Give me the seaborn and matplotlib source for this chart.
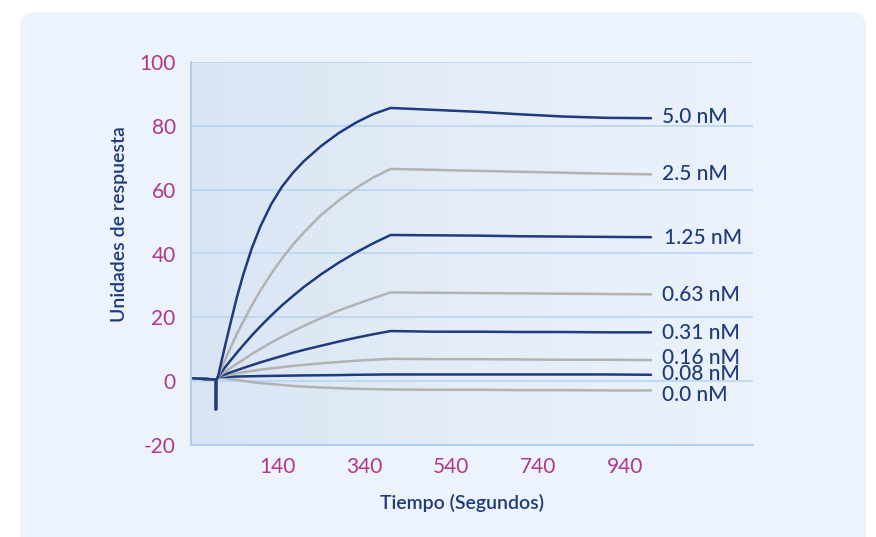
import matplotlib
matplotlib.use("Agg")
import matplotlib.pyplot as plt
from matplotlib.colors import LinearSegmentedColormap
from matplotlib.patches import FancyBboxPatch
import numpy as np
import pandas as pd
import seaborn as sns

# ---- data -------------------------------------------------------------
# shared pre-injection baseline with the injection spike
time_pre = [-55, -3, -2.6, -1.6]
resp_pre = [0.9, 0.5, -8.9, 0.3]

# association (0-400 s) and dissociation (400-1000 s) sampling times
time_assoc = [2, 10, 20, 30, 45, 60, 80, 100, 125, 150, 175, 200, 240, 280, 320, 360, 400]
time_dissoc = [500, 600, 700, 800, 900, 1000]

concentrations = ["0.0 nM", "0.08 nM", "0.16 nM", "0.31 nM",
                  "0.63 nM", "1.25 nM", "2.5 nM", "5.0 nM"]

resp_0_0 = [1.3, 1.1, 0.9, 0.7, 0.4, 0.1, -0.3, -0.6, -0.9, -1.2, -1.5, -1.7, -2.0, -2.2, -2.4, -2.5, -2.6,
            -2.7, -2.7, -2.8, -2.8, -2.9, -2.9]
resp_0_08 = [1.3, 1.3, 1.35, 1.4, 1.45, 1.5, 1.55, 1.6, 1.65, 1.7, 1.75, 1.8, 1.85, 1.9, 2.0, 2.05, 2.1,
             2.1, 2.1, 2.1, 2.1, 2.1, 2.0]
resp_0_16 = [1.3, 1.5, 1.8, 2.0, 2.4, 2.8, 3.2, 3.6, 4.0, 4.4, 4.8, 5.1, 5.6, 6.0, 6.4, 6.7, 7.0,
             6.9, 6.9, 6.8, 6.7, 6.7, 6.6]
resp_0_31 = [1.3, 1.7, 2.2, 2.7, 3.4, 4.1, 5.0, 5.9, 6.9, 7.9, 8.9, 9.8, 11.1, 12.4, 13.6, 14.7, 15.7,
             15.5, 15.5, 15.4, 15.4, 15.3, 15.3]
resp_0_63 = [1.3, 2.1, 3.1, 4.0, 5.4, 6.7, 8.5, 10.1, 12.1, 13.9, 15.7, 17.3, 19.8, 22.1, 24.1, 26.0, 27.8,
             27.7, 27.6, 27.5, 27.4, 27.3, 27.2]
resp_1_25 = [1.3, 2.8, 4.6, 6.3, 8.8, 11.2, 14.3, 17.2, 20.6, 23.8, 26.7, 29.5, 33.5, 37.1, 40.3, 43.2, 45.8,
             45.7, 45.6, 45.4, 45.3, 45.2, 45.1]
resp_2_5 = [1.3, 4.0, 7.1, 10.2, 14.6, 18.6, 23.7, 28.4, 33.7, 38.5, 42.8, 46.6, 52.1, 56.6, 60.5, 63.8, 66.5,
            66.2, 65.9, 65.6, 65.3, 65.0, 64.8]
resp_5_0 = [1.3, 6.1, 11.9, 17.6, 25.9, 33.2, 41.6, 48.5, 55.5, 61.0, 65.3, 68.9, 73.7, 77.7, 81.0, 83.7, 85.6,
            85.0, 84.4, 83.6, 82.9, 82.5, 82.4]

series = [resp_0_0, resp_0_08, resp_0_16, resp_0_31,
          resp_0_63, resp_1_25, resp_2_5, resp_5_0]

y_ticks = [-20, 0, 20, 40, 60, 80, 100]
x_ticks = [140, 340, 540, 740, 940]

# ---- styling ------------------------------------------------------------
NAVY = "#1f3a7d"
GREY = "#b2b2b2"
MAGENTA = "#b0378a"
GRIDBLUE = "#b4d4f0"

sns.set_theme(style="white")
plt.rcParams["font.family"] = ["Lato", "DejaVu Sans"]
plt.rcParams["axes.unicode_minus"] = False

rows = []
for conc, vals in zip(concentrations, series):
    times = time_pre + time_assoc + time_dissoc
    values = resp_pre + vals
    for t, v in zip(times, values):
        rows.append({"Tiempo": t, "Respuesta": v, "Concentración": conc})
df = pd.DataFrame(rows)

palette = {c: (NAVY if i % 2 else GREY) for i, c in enumerate(concentrations)}

fig = plt.figure(figsize=(8.76, 5.37), dpi=100)
fig.patch.set_facecolor("white")

# rounded background card
card = FancyBboxPatch((20, -30), 846, 555, boxstyle="round,pad=0,rounding_size=16",
                      transform=None, facecolor="#ecf3fc", edgecolor="none", zorder=-5)
fig.add_artist(card)

ax = fig.add_axes([191 / 876, 1 - 445 / 537, (753 - 191) / 876, (445 - 62) / 537], zorder=2)
ax.set_facecolor("none")

# horizontal gradient inside the plotting area
grad = LinearSegmentedColormap.from_list("panel", ["#dae5f4", "#e4edf8", "#ebf2fb"])
ax.imshow(np.linspace(0, 1, 256).reshape(1, -1), cmap=grad, aspect="auto",
          extent=(0, 1, 0, 1), transform=ax.transAxes, zorder=0)

sns.lineplot(data=df, x="Tiempo", y="Respuesta", hue="Concentración", units="Concentración",
             estimator=None, sort=False, palette=palette, hue_order=concentrations,
             linewidth=1.8, legend=False, ax=ax, zorder=3)

ax.set_xlim(-60, 1235)
ax.set_ylim(-20, 100)
ax.set_yticks(y_ticks)
ax.set_xticks(x_ticks)
ax.yaxis.grid(True, color=GRIDBLUE, linewidth=1.1, zorder=1)
ax.xaxis.grid(False)
ax.set_axisbelow(True)

for side in ("top", "right"):
    ax.spines[side].set_visible(False)
for side in ("left", "bottom"):
    ax.spines[side].set_color("#a9cdee")
    ax.spines[side].set_linewidth(1.3)

ax.tick_params(axis="y", length=0, pad=11, labelsize=15, labelcolor=MAGENTA)
ax.tick_params(axis="x", length=4.5, width=1.1, color="#a9cdee", pad=4,
               labelsize=15, labelcolor=MAGENTA, direction="out")
ax.set_xlabel("")
ax.set_ylabel("")

# concentration labels at the end of each trace
label_x = [1025, 1025, 1025, 1025, 1025, 1030, 1025, 1025]
label_y = [-6.2, 0.3, 5.5, 13.2, 25.1, 42.9, 63.0, 80.8]
for conc, lx, ly in zip(concentrations, label_x, label_y):
    ax.text(lx, ly, conc, color=NAVY, fontsize=15, fontweight="medium",
            ha="left", va="baseline", zorder=4)

fig.text(462 / 876, 1 - 503 / 537, "Tiempo (Segundos)", color=NAVY, fontsize=14,
         fontweight="semibold", ha="center", va="center")
fig.text(120 / 876, 1 - 224 / 537, "Unidades de respuesta", color=NAVY, fontsize=14,
         fontweight="semibold", ha="center", va="center", rotation=90)

fig.savefig("out.png", dpi=100, facecolor=fig.get_facecolor())
